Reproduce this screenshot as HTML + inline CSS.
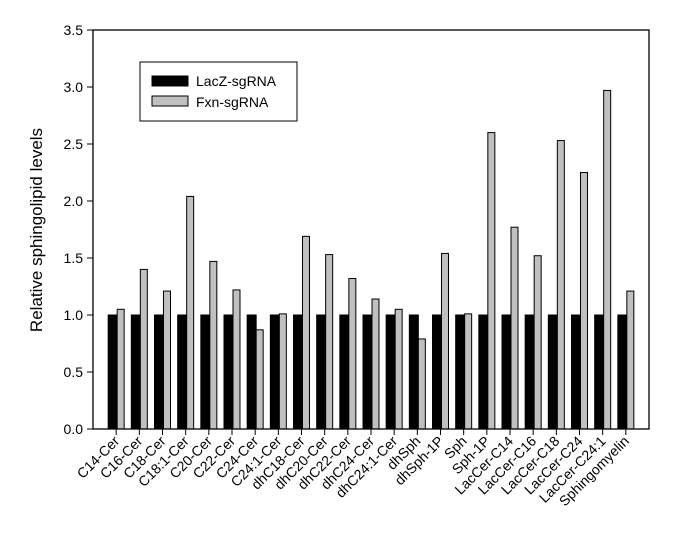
<!DOCTYPE html>
<html><head><meta charset="utf-8"><style>
html,body{margin:0;padding:0;background:#fff;}
svg{display:block;font-family:"Liberation Sans",Arial,sans-serif;}
</style></head><body>
<svg id="chart" width="698" height="535"></svg>
<script>
const categories=["C14-Cer","C16-Cer","C18-Cer","C18:1-Cer","C20-Cer","C22-Cer","C24-Cer","C24:1-Cer","dhC18-Cer","dhC20-Cer","dhC22-Cer","dhC24-Cer","dhC24:1-Cer","dhSph","dhSph-1P","Sph","Sph-1P","LacCer-C14","LacCer-C16","LacCer-C18","LacCer-C24","LacCer-C24:1","Sphingomyelin"];
const lacz=[1,1,1,1,1,1,1,1,1,1,1,1,1,1,1,1,1,1,1,1,1,1,1];
const fxn=[1.05,1.40,1.21,2.04,1.47,1.22,0.87,1.01,1.69,1.53,1.32,1.14,1.05,0.79,1.54,1.01,2.60,1.77,1.52,2.53,2.25,2.97,1.21];
const yTicks=[0,0.5,1,1.5,2,2.5,3,3.5];
const NS="http://www.w3.org/2000/svg";
const svg=document.getElementById('chart');
const L=93,R=649,T=30,B=429,yMax=3.5;
const y=v=>B-(v/yMax)*(B-T);
const step=(R-L)/(categories.length+1);
const xc=i=>L+(i+1)*step;
function mk(tag,attrs,parent){const e=document.createElementNS(NS,tag);for(const k in attrs)e.setAttribute(k,attrs[k]);(parent||svg).appendChild(e);return e;}
// bars
categories.forEach((c,i)=>{
  const cx=xc(i)+1;
  let b=mk('rect',{x:cx-9,y:y(lacz[i]),width:9,height:B-y(lacz[i]),fill:'#000',stroke:'#000','stroke-width':1});
  
  
  let g=mk('rect',{x:cx,y:y(fxn[i]),width:7,height:B-y(fxn[i]),fill:'#c0c0c0',stroke:'#000','stroke-width':1});
  
  
  let t=mk('line',{x1:xc(i),x2:xc(i),y1:B,y2:B+6,stroke:'#000'});
  
  
  let lb=mk('text',{x:xc(i)+4,y:B+13,'font-size':14,'text-anchor':'end',transform:`rotate(-45 ${xc(i)+4} ${B+13})`});
  lb.textContent=c;
  
  
});
// frame
let fr=mk('rect',{x:L,y:T,width:R-L,height:B-T,fill:'none',stroke:'#000','stroke-width':1.3});


yTicks.forEach(v=>{
  let t=mk('line',{x1:L-6,x2:L,y1:y(v),y2:y(v),stroke:'#000'});
  
  
  let lb=mk('text',{x:L-10,y:y(v)+5,'font-size':14,'text-anchor':'end'});
  lb.textContent=v.toFixed(1);
  
  
});
let yt=mk('text',{x:42,y:230,'font-size':17,'text-anchor':'middle',transform:'rotate(-90 42 230)'});
yt.textContent='Relative sphingolipid levels';


// legend
let lg=mk('g',{});


mk('rect',{x:140,y:62,width:157,height:59,fill:'#fff',stroke:'#000'},lg);
let s1=mk('rect',{x:152,y:76,width:36,height:10,fill:'#000',stroke:'#000'},lg);


let t1=mk('text',{x:196,y:86,'font-size':14},lg);t1.textContent='LacZ-sgRNA';


let s2=mk('rect',{x:152,y:96,width:36,height:10,fill:'#c0c0c0',stroke:'#000'},lg);


let t2=mk('text',{x:196,y:107,'font-size':14},lg);t2.textContent='Fxn-sgRNA';


</script>
</body></html>
